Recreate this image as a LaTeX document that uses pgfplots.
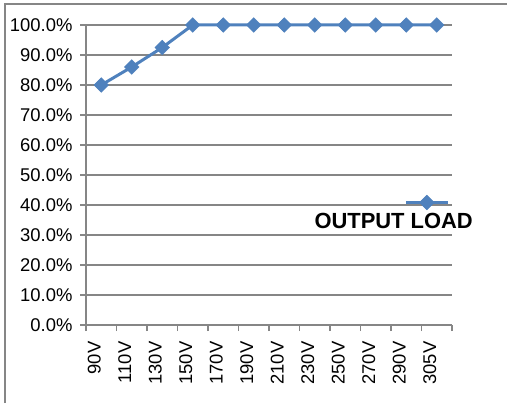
\documentclass[border=0pt]{standalone}
\usepackage{pgfplots}
\pgfplotsset{compat=1.18}
\usepackage{fontspec}
\setmainfont{Liberation Sans}
\definecolor{xlblue}{RGB}{79,129,189}
\definecolor{xlgray}{RGB}{134,134,134}
\begin{document}
\begin{tikzpicture}[x=1bp,y=1bp]
\path[use as bounding box] (0,0) rectangle (507,403);
\draw[xlgray, line width=1.2bp] (5,0) -- (5,399) -- (507,399);
\begin{axis}[
  at={(86bp,78bp)}, anchor=south west,
  scale only axis, width=366bp, height=300bp,
  xmin=-0.5, xmax=11.5, ymin=0, ymax=100,
  axis x line=bottom, axis y line=left,
  axis line style={xlgray, line width=1.2bp, -},
  xtick={0,...,11},
  xticklabels={90V,110V,130V,150V,170V,190V,210V,230V,250V,270V,290V,305V},
  major x tick style={draw=none},
  minor xtick={-0.5,0.5,...,11.5},
  minor x tick style={xlgray, line width=1.2bp},
  minor tick length=6bp,
  xtick align=outside, ytick align=outside,
  ytick={0,10,...,100},
  major y tick style={xlgray, line width=1.2bp},
  major tick length=6bp,
  ymajorgrids, grid style={xlgray, line width=1.2bp},
  yticklabel={\pgfmathprintnumber[fixed,fixed zerofill,precision=1]{\tick}\%},
  /pgf/number format/assume math mode=true,
  ticklabel style={font=\fontsize{18.5}{22}\selectfont, text=black},
  xticklabel style={xshift=-7bp, yshift=-7bp, rotate=90, anchor=east},
  yticklabel style={xshift=-4bp},
  clip=false,
  legend style={draw=none, fill=none, at={(rel axis cs:1.071,0.345)}, anchor=east,
    font=\bfseries\fontsize{22}{26}\selectfont, legend cell align=left},
  legend plot pos=right,
  legend image code/.code={
    \draw[overlay, xlblue, line width=3bp] (-69bp,19bp) -- (-27bp,19bp);
    \draw[overlay, xlblue, line width=0.5bp, fill=xlblue] plot[mark=square*, mark size=5.2bp, mark options={rotate=45}] coordinates {(-48bp,19bp)};
  },
]
\addplot[xlblue, line width=3bp, mark=square*, mark size=5.2bp,
  mark options={rotate=45, fill=xlblue, draw=xlblue, line width=0.5bp}]
  coordinates {(0,80) (1,86) (2,92.5) (3,100) (4,100) (5,100) (6,100) (7,100) (8,100) (9,100) (10,100) (11,100)};
\addlegendentry{OUTPUT LOAD}
\end{axis}
\end{tikzpicture}
\end{document}
